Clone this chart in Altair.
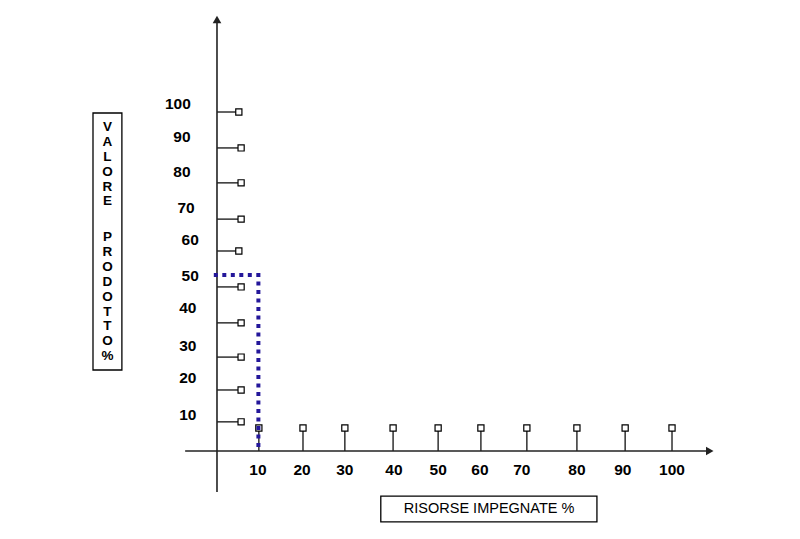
"""
Valore prodotto vs risorse impegnate (diagramma a frecce)
"""
import pandas as pd
import altair as alt

# Values (percent units)
y_labels = [100, 90, 80, 70, 60, 50, 40, 30, 20, 10]
y_tick_pos = [100, 89.4, 79.1, 68.4, 59.0, 48.4, 37.8, 27.7, 18.0, 8.6]
y_tick_len = [4.8, 5.3, 5.3, 5.3, 4.8, 5.3, 5.3, 5.3, 5.3, 5.3]
y_label_x = [-8.6, -7.7, -7.7, -6.8, -5.9, -5.9, -6.4, -6.4, -6.4, -6.4]
y_label_y = [102.4, 92.6, 82.3, 71.7, 62.2, 51.6, 42.2, 31.0, 21.5, 10.6]

x_labels = [10, 20, 30, 40, 50, 60, 70, 80, 90, 100]
x_tick_pos = [9.2, 18.9, 28.1, 38.7, 48.6, 58.0, 68.1, 79.1, 89.7, 100]
x_label_x = [9.0, 18.7, 28.1, 38.9, 48.6, 57.8, 67.0, 79.1, 89.2, 100]
x_tick_height = 6.8
x_label_y = -5.6

# dotted guide: 10% resources -> 50% value
guide_x = [-0.7, 9.1, 9.1]
guide_y = [51.9, 51.9, 0]

# scale set-up so that 0 sits at the axis cross
XMIN, XMAX = -45.93, 126.37
YMIN, YMAX = -23.6, 130.68
W, H = 784, 523

xs = alt.Scale(domain=[XMIN, XMAX], nice=False, zero=False)
ys = alt.Scale(domain=[YMIN, YMAX], nice=False, zero=False)
AXIS = "#222222"
FONT = "Liberation Sans"


def X(f):
    return alt.X(f, type="quantitative", scale=xs, axis=None)


def Y(f):
    return alt.Y(f, type="quantitative", scale=ys, axis=None)


ydf = pd.DataFrame({"lab": y_labels, "pos": y_tick_pos, "len": y_tick_len,
                    "lx": y_label_x, "ly": y_label_y, "zero": 0})
xdf = pd.DataFrame({"lab": x_labels, "pos": x_tick_pos, "lx": x_label_x,
                    "ly": x_label_y, "top": x_tick_height, "zero": 0})
gdf = pd.DataFrame({"x": guide_x, "y": guide_y, "o": [0, 1, 2]})

# axes with arrows
axes = pd.DataFrame({"x": [0, -7.0], "x2": [0, 107.6], "y": [-12.1, 0], "y2": [126.5, 0]})
axis_lines = alt.Chart(axes).mark_rule(color=AXIS, strokeWidth=1.6).encode(
    x=X("x"), x2="x2", y=Y("y"), y2="y2")

arrows = pd.DataFrame({"x": [0, 108.3], "y": [127.3, 0], "s": ["triangle-up", "triangle-right"]})
arrow_heads = alt.Chart(arrows).mark_point(filled=True, color=AXIS, size=75, opacity=1).encode(
    x=X("x"), y=Y("y"),
    shape=alt.Shape("s:N", scale=None, legend=None))

# y ticks with squares
y_stems = alt.Chart(ydf).mark_rule(color=AXIS, strokeWidth=1.4).encode(
    x=X("zero"), x2="len", y=Y("pos"))
y_sq = alt.Chart(ydf).mark_square(size=38, fill="white", stroke="black",
                                  strokeWidth=1.2, opacity=1).encode(
    x=X("len"), y=Y("pos"))
y_text = alt.Chart(ydf).mark_text(font=FONT, fontSize=15.5, fontWeight="bold",
                                  color="black").encode(
    x=X("lx"), y=Y("ly"), text="lab:N")

# x ticks with squares
x_stems = alt.Chart(xdf).mark_rule(color=AXIS, strokeWidth=1.4).encode(
    x=X("pos"), y=Y("zero"), y2="top")
x_sq = alt.Chart(xdf).mark_square(size=38, fill="white", stroke="black",
                                  strokeWidth=1.2, opacity=1).encode(
    x=X("pos"), y=Y("top"))
x_text = alt.Chart(xdf).mark_text(font=FONT, fontSize=15.5, fontWeight="bold",
                                  color="black").encode(
    x=X("lx"), y=Y("ly"), text="lab:N")

guide = alt.Chart(gdf).mark_line(color="#24179a", strokeWidth=4,
                                 strokeDash=[4, 4.5], strokeCap="butt").encode(
    x=X("x"), y=Y("y"), order="o:O")

# title boxes
boxes = pd.DataFrame({"x": [-27.25, 36.0], "x2": [-20.9, 83.5],
                      "y": [99.7, -13.3], "y2": [23.9, -20.9]})
box_rects = alt.Chart(boxes).mark_rect(fill="white", stroke="black", strokeWidth=1.3).encode(
    x=X("x"), x2="x2", y=Y("y"), y2="y2")

# stacked letters: y is the centre of the first letter of each block
vtext = pd.DataFrame({"t": ["V\nA\nL\nO\nR\nE", "P\nR\nO\nD\nO\nT\nT\nO\n%"],
                      "x": [-24.07, -24.07], "y": [95.6, 63.1]})
v_label = alt.Chart(vtext).mark_text(font=FONT, fontSize=13.5, fontWeight="bold",
                                     lineBreak="\n", lineHeight=14.9,
                                     baseline="middle", color="black").encode(
    x=X("x"), y=Y("y"), text="t:N")

htext = pd.DataFrame({"t": ["RISORSE IMPEGNATE %"], "x": [59.8], "y": [-17.1]})
h_label = alt.Chart(htext).mark_text(font=FONT, fontSize=14.5, color="black").encode(
    x=X("x"), y=Y("y"), text="t:N")

chart = alt.layer(
    axis_lines, arrow_heads, y_stems, y_sq, x_stems, x_sq, guide,
    y_text, x_text, box_rects, v_label, h_label
).properties(
    width=W, height=H, autosize="none", padding=0
).configure_view(stroke=None)

chart.save("out.html", embed_options={"renderer": "svg", "actions": False})
